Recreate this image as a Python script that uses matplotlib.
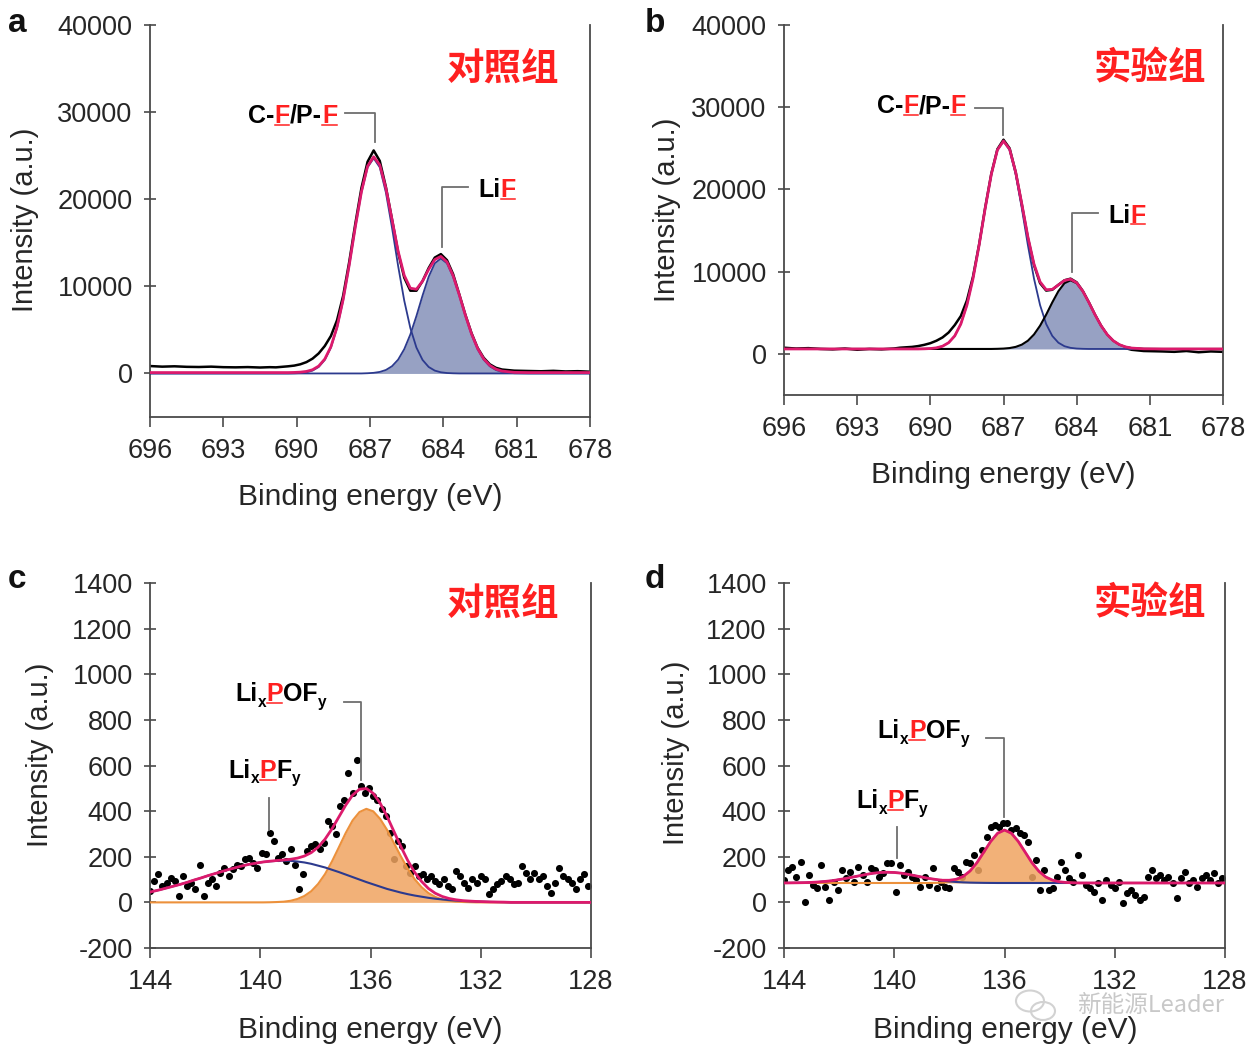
import matplotlib
matplotlib.use('Agg')
import matplotlib.pyplot as plt
from matplotlib.lines import Line2D
from matplotlib.patches import Ellipse

plt.rcParams['font.family'] = ['Liberation Sans', 'Noto Sans CJK SC', 'DejaVu Sans']
plt.rcParams['axes.unicode_minus'] = False

# ---------------- data: panel a (F 1s, control) ----------------
energy_a = [696, 695.5, 695, 694.5, 694, 693.5, 693, 692.5, 692, 691.5,
            691.1, 690.85, 690.6, 690.35, 690.1, 689.85, 689.6, 689.35, 689.1, 688.85,
            688.6, 688.35, 688.1, 687.85, 687.6, 687.35, 687.1, 686.85, 686.6, 686.35,
            686.1, 685.85, 685.6, 685.35, 685.1, 684.85, 684.6, 684.35, 684.1, 683.85,
            683.6, 683.35, 683.1, 682.85, 682.6, 682.35, 682.1, 681.85, 681.6, 681.1,
            680.5, 680, 679.5, 679, 678.5, 678]
counts_a = [850, 780, 820, 760, 740, 780, 720, 700, 730, 680,
            720, 700, 760, 820, 900, 1050, 1300, 1700, 2300, 3150,
            4300, 6100, 8900, 12800, 17200, 21300, 24300, 25600, 24400, 21400,
            17700, 13900, 11000, 9500, 9500, 10600, 12100, 13300, 13700, 13000,
            11400, 9100, 6750, 4650, 2950, 1800, 1050, 650, 450, 320,
            280, 250, 300, 230, 260, 200]
fit_a = [100, 100, 100, 100, 100, 100, 100, 100, 100, 100,
         100, 100, 100, 100, 117, 149, 232, 426, 843, 1651,
         3064, 5312, 8473, 12450, 16847, 20873, 23789, 24870, 23937, 21270,
         17676, 14034, 11258, 9787, 9664, 10601, 11944, 13072, 13432, 12795,
         11218, 9050, 6700, 4575, 2885, 1684, 929, 497, 274, 126,
         100, 100, 100, 100, 100, 100]
cf_a = [0, 0, 0, 0, 0, 0, 0, 0, 0, 0,
        0, 0, 0, 0, 17, 49, 132, 326, 743, 1551,
        2964, 5212, 8373, 12350, 16747, 20773, 23663, 24700, 23663, 20773,
        16747, 12350, 8373, 5212, 2964, 1551, 743, 326, 132, 49,
        17, 0, 0, 0, 0, 0, 0, 0, 0, 0,
        0, 0, 0, 0, 0, 0]
lif_a = [0, 0, 0, 0, 0, 0, 0, 0, 0, 0,
         0, 0, 0, 0, 0, 0, 0, 0, 0, 0,
         0, 0, 0, 0, 0, 0, 26, 70, 174, 397,
         829, 1584, 2785, 4475, 6600, 8950, 11101, 12646, 13200, 12646,
         11101, 8950, 6600, 4475, 2785, 1584, 829, 397, 174, 26,
         0, 0, 0, 0, 0, 0]

# ---------------- data: panel b (F 1s, experiment) ----------------
energy_b = [696, 695.5, 695, 694.5, 694, 693.5, 693, 692.5, 692, 691.5,
            691.25, 691.0, 690.75, 690.5, 690.25, 690.0, 689.75, 689.5, 689.25, 689.0,
            688.75, 688.5, 688.25, 688.0, 687.75, 687.5, 687.25, 687.0, 686.75, 686.5,
            686.25, 686.0, 685.75, 685.5, 685.25, 685.0, 684.75, 684.5, 684.25, 684.0,
            683.75, 683.5, 683.25, 683.0, 682.75, 682.5, 682.25, 682.0, 681.75, 681.25,
            680.5, 680, 679.5, 679, 678.5, 678]
counts_b = [750, 650, 700, 600, 550, 650, 500, 600, 550, 650,
            750, 800, 850, 950, 1100, 1300, 1600, 2000, 2600, 3500,
            4600, 6500, 9400, 13300, 17800, 21900, 24900, 26050, 25000, 22100,
            18200, 14100, 10800, 8600, 7700, 7800, 8400, 8950, 9150, 8700,
            7650, 6250, 4750, 3400, 2300, 1500, 1000, 700, 500, 350,
            300, 250, 350, 200, 300, 250]
fit_b = [600, 600, 600, 600, 600, 600, 600, 600, 600, 600,
         600, 600, 600, 600, 617, 650, 735, 933, 1360, 2186,
         3630, 5928, 9160, 13225, 17720, 21835, 24806, 25895, 24900, 22086,
         18244, 14227, 10922, 8759, 7805, 7847, 8382, 8933, 9085, 8650,
         7639, 6261, 4775, 3431, 2362, 1602, 1124, 851, 710, 616,
         600, 600, 600, 600, 600, 600]
cf_b = [600, 600, 600, 600, 600, 600, 600, 600, 600, 600,
        600, 600, 600, 600, 617, 650, 735, 933, 1360, 2186,
        3630, 5928, 9160, 13225, 17720, 21835, 24790, 25850, 24790, 21835,
        17720, 13225, 9160, 5928, 3630, 2186, 1360, 933, 735, 650,
        617, 600, 600, 600, 600, 600, 600, 600, 600, 600,
        600, 600, 600, 600, 600, 600]
lif_b = [600, 600, 600, 600, 600, 600, 600, 600, 600, 600,
         600, 600, 600, 600, 600, 600, 600, 600, 600, 600,
         600, 600, 600, 600, 600, 600, 616, 645, 710, 851,
         1124, 1602, 2362, 3431, 4775, 6261, 7622, 8600, 8950, 8600,
         7622, 6261, 4775, 3431, 2362, 1602, 1124, 851, 710, 616,
         600, 600, 600, 600, 600, 600]
baseline_b = 600

# ---------------- data: panels c, d (P 2p) ----------------
energy_pts = [144.0, 143.85, 143.7, 143.55, 143.4, 143.25, 143.1, 142.95, 142.8, 142.65,
              142.5, 142.35, 142.2, 142.05, 141.9, 141.75, 141.6, 141.45, 141.3, 141.15,
              141.0, 140.85, 140.7, 140.55, 140.4, 140.25, 140.1, 139.95, 139.8, 139.65,
              139.5, 139.35, 139.2, 139.05, 138.9, 138.75, 138.6, 138.45, 138.3, 138.15,
              138.0, 137.85, 137.7, 137.55, 137.4, 137.25, 137.1, 136.95, 136.8, 136.65,
              136.5, 136.35, 136.2, 136.05, 135.9, 135.75, 135.6, 135.45, 135.3, 135.15,
              135.0, 134.85, 134.7, 134.55, 134.4, 134.25, 134.1, 133.95, 133.8, 133.65,
              133.5, 133.35, 133.2, 133.05, 132.9, 132.75, 132.6, 132.45, 132.3, 132.15,
              132.0, 131.85, 131.7, 131.55, 131.4, 131.25, 131.1, 130.95, 130.8, 130.65,
              130.5, 130.35, 130.2, 130.05, 129.9, 129.75, 129.6, 129.45, 129.3, 129.15,
              129.0, 128.85, 128.7, 128.55, 128.4, 128.25, 128.1]
counts_c = [49, 95, 123, 72, 86, 108, 94, 28, 115, 72,
            86, 57, 166, 28, 86, 101, 72, 130, 152, 115,
            145, 166, 159, 189, 196, 174, 152, 218, 210, 305,
            268, 196, 210, 181, 232, 166, 57, 123, 225, 247,
            254, 232, 262, 356, 334, 298, 421, 450, 567, 480,
            626, 509, 480, 502, 465, 450, 410, 378, 305, 188,
            268, 246, 160, 130, 159, 116, 123, 101, 115, 94,
            79, 101, 72, 57, 137, 115, 86, 64, 101, 86,
            115, 101, 35, 57, 79, 94, 115, 101, 79, 86,
            159, 130, 101, 130, 101, 115, 72, 42, 86, 152,
            115, 101, 86, 57, 101, 123, 72]
counts_d = [98, 142, 157, 113, 179, 3, 120, 76, 62, 164,
            69, 11, 91, 54, 142, 106, 135, 91, 157, 120,
            91, 149, 142, 113, 128, 171, 171, 47, 164, 120,
            135, 113, 98, 69, 113, 76, 149, 62, 91, 69,
            62, 149, 135, 113, 179, 171, 208, 142, 230, 288,
            332, 339, 332, 347, 347, 317, 325, 303, 295, 266,
            113, 186, 54, 142, 54, 62, 113, 179, 142, 106,
            91, 208, 120, 76, 62, 47, 84, 11, 98, 76,
            62, 91, -4, 40, 54, 32, 11, 25, 113, 142,
            106, 120, 98, 113, 84, 18, 106, 135, 84, 98,
            69, 106, 120, 98, 128, 84, 106]

energy_c_fit = [144.0, 143.9, 143.65, 143.4, 143.15, 142.9, 142.65, 142.4, 142.15, 141.9,
                141.65, 141.4, 141.15, 140.9, 140.65, 140.4, 140.15, 139.9, 139.65, 139.4,
                139.15, 138.9, 138.65, 138.4, 138.15, 137.9, 137.65, 137.4, 137.15, 136.9,
                136.65, 136.4, 136.15, 135.9, 135.65, 135.4, 135.15, 134.9, 134.65, 134.4,
                134.15, 133.9, 133.65, 133.4, 133.15, 132.9, 132.65, 132.4, 132.15, 131.9,
                131.65, 131.4, 131.15, 130.9, 130.65, 130.4, 130.15, 129.9, 129.65, 129.4,
                129.15, 128.9, 128.65, 128.4, 128.15, 128.0]
pfy_c = [45, 48, 55, 63, 71, 79, 88, 98, 107, 117,
         126, 135, 144, 152, 160, 167, 172, 177, 180, 182,
         183, 182, 179, 175, 169, 161, 153, 143, 133, 122,
         111, 100, 89, 79, 69, 59, 51, 43, 36, 30,
         25, 20, 16, 13, 10, 8, 6, 5, 4, 3,
         2, 1.5, 1, 0, 0, 0, 0, 0, 0, 0,
         0, 0, 0, 0, 0, 0]
pofy_c = [0, 0, 0, 0, 0, 0, 0, 0, 0, 0,
          0, 0, 0, 0, 0, 0, 0, 0, 0.5, 1.5,
          3, 7, 15, 28, 49, 81, 124, 179, 241, 304,
          359, 396, 410, 399, 366, 318, 260, 202, 148, 102,
          67, 41, 24, 13, 7, 3.4, 1.6, 0.7, 0, 0,
          0, 0, 0, 0, 0, 0, 0, 0, 0, 0,
          0, 0, 0, 0, 0, 0]
fit_c = [45, 48, 55, 63, 71, 79, 88, 98, 107, 117,
         126, 135, 144, 152, 160, 167, 172, 177, 180.5, 183.5,
         186, 189, 194, 203, 218, 242, 277, 322, 374, 426,
         470, 496, 499, 478, 435, 377, 311, 245, 184, 132,
         92, 61, 40, 26, 17, 11.4, 7.6, 5.7, 4, 3,
         2, 1.5, 1, 0, 0, 0, 0, 0, 0, 0,
         0, 0, 0, 0, 0, 0]

energy_d_fit = [144.0, 143.75, 143.5, 143.25, 143.0, 142.75, 142.5, 142.25, 142.0, 141.75,
                141.5, 141.25, 141.0, 140.75, 140.5, 140.25, 140.0, 139.75, 139.5, 139.25,
                139.0, 138.75, 138.5, 138.25, 138.0, 137.75, 137.5, 137.25, 137.0, 136.75,
                136.5, 136.25, 136.0, 135.75, 135.5, 135.25, 135.0, 134.75, 134.5, 134.25,
                134.0, 133.75, 133.5, 133.25, 133.0, 132.75, 132.5, 132.25, 132.0, 131.75,
                131.5, 131.25, 131.0, 130.75, 130.5, 130.25, 130.0, 129.75, 129.5, 129.25,
                129.0, 128.75, 128.5, 128.25, 128.0]
pfy_d = [85, 85.5, 86, 86.6, 87.7, 89.4, 92, 95, 100, 105,
         111, 117, 123, 128, 131, 132, 131, 128, 123, 117,
         111, 105, 100, 95, 92, 89.4, 87.7, 86.6, 86, 85.5,
         85.2, 85, 85, 85, 85, 85, 85, 85, 85, 85,
         85, 85, 85, 85, 85, 85, 85, 85, 85, 85,
         85, 85, 85, 85, 85, 85, 85, 85, 85, 85,
         85, 85, 85, 85, 85]
pofy_d = [85, 85, 85, 85, 85, 85, 85, 85, 85, 85,
          85, 85, 85, 85, 85, 85, 85, 85, 85, 85,
          85, 85, 85.6, 87, 90, 97, 111, 136, 173, 220,
          267, 303, 317, 303, 267, 220, 173, 136, 111, 97,
          90, 87, 85.6, 85, 85, 85, 85, 85, 85, 85,
          85, 85, 85, 85, 85, 85, 85, 85, 85, 85,
          85, 85, 85, 85, 85]
fit_d = [85, 85.5, 86, 86.6, 87.7, 89.4, 92, 95, 100, 105,
         111, 117, 123, 128, 131, 132, 131, 128, 123, 117,
         111, 105, 100.6, 97, 97, 101.4, 113.7, 137.6, 174, 220.5,
         267.2, 303, 317, 303, 267, 220, 173, 136, 111, 97,
         90, 87, 85.6, 85, 85, 85, 85, 85, 85, 85,
         85, 85, 85, 85, 85, 85, 85, 85, 85, 85,
         85, 85, 85, 85, 85]
baseline_d = 85

# ---------------- axes / ticks ----------------
xticks_F = [696, 693, 690, 687, 684, 681, 678]
yticks_F = [0, 10000, 20000, 30000, 40000]
xticks_P = [144, 140, 136, 132, 128]
yticks_P = [-200, 0, 200, 400, 600, 800, 1000, 1200, 1400]
xlabel = 'Binding energy (eV)'
ylabel = 'Intensity (a.u.)'
group_labels = ['对照组', '实验组', '对照组', '实验组']
panel_letters = ['a', 'b', 'c', 'd']
watermark = '新能源Leader'

# ---------------- styling ----------------
W, H = 1257, 1048
fig = plt.figure(figsize=(W / 100, H / 100), dpi=100)

MAG = '#DC1A6C'
NAVY = '#2C3A8E'
SLATE = '#97A1C3'
ORANGE_F = '#F0A461'
ORANGE_L = '#EC913C'
RED = '#FF2020'
GREY = '#6e6e6e'
SPINE = '#4a4a4a'
TXT = '#262626'


def axes_px(l, t, r, b):
    return fig.add_axes([l / W, 1 - b / H, (r - l) / W, (b - t) / H])


def style(ax, xlim, xt, ylim, yt):
    ax.set_xlim(*xlim)
    ax.set_ylim(*ylim)
    ax.set_xticks(xt)
    ax.set_xticklabels([str(v) for v in xt])
    ax.set_yticks(yt)
    ax.set_yticklabels([str(v) for v in yt])
    ax.spines['top'].set_visible(False)
    for s in ['left', 'bottom', 'right']:
        ax.spines[s].set_color(SPINE)
        ax.spines[s].set_linewidth(1.3)
    ax.tick_params(axis='y', direction='inout', length=9, width=1.2, pad=8,
                   labelsize=19.5, color=SPINE, labelcolor=TXT, right=False)
    ax.tick_params(axis='x', direction='out', length=7, width=1.2, pad=8,
                   labelsize=19.5, color=SPINE, labelcolor=TXT, top=False)


axa = axes_px(150, 25, 590, 417)
axb = axes_px(784, 25, 1223, 395)
axc = axes_px(150, 583, 591, 948)
axd = axes_px(784, 583, 1225, 948)

style(axa, (696, 678), xticks_F, (-5000, 40000), yticks_F)
style(axb, (696, 678), xticks_F, (-5000, 40000), yticks_F)
style(axc, (144, 128), xticks_P, (-200, 1400), yticks_P)
style(axd, (144, 128), xticks_P, (-200, 1400), yticks_P)

# panel a
axa.plot(energy_a, counts_a, color='black', lw=1.8, zorder=2)
axa.fill_between(energy_a, 0, lif_a, color=SLATE, lw=0, zorder=3)
axa.plot(energy_a, lif_a, color=NAVY, lw=1.3, zorder=4)
axa.plot(energy_a, cf_a, color=NAVY, lw=1.3, zorder=4)
axa.plot(energy_a, fit_a, color=MAG, lw=2.0, zorder=5)

# panel b
axb.plot(energy_b, counts_b, color='black', lw=1.8, zorder=2)
axb.fill_between(energy_b, baseline_b, lif_b, color=SLATE, lw=0, zorder=3)
axb.plot(energy_b, cf_b, color=NAVY, lw=1.3, zorder=4)
axb.plot(energy_b, lif_b, color='black', lw=1.5, zorder=4)
axb.plot(energy_b, fit_b, color=MAG, lw=2.0, zorder=5)

# panel c
axc.scatter(energy_pts, counts_c, s=26, color='black', zorder=2, lw=0)
axc.fill_between(energy_c_fit, 0, pofy_c, color=ORANGE_F, alpha=0.85, lw=0, zorder=3)
axc.plot(energy_c_fit, pofy_c, color=ORANGE_L, lw=1.5, zorder=3.5)
axc.plot(energy_c_fit, pfy_c, color=NAVY, lw=1.5, zorder=4)
axc.plot(energy_c_fit, fit_c, color=MAG, lw=2.0, zorder=5)

# panel d
axd.scatter(energy_pts, counts_d, s=26, color='black', zorder=2, lw=0)
axd.fill_between(energy_d_fit, baseline_d, pofy_d, color=ORANGE_F, alpha=0.85, lw=0, zorder=3)
axd.plot(energy_d_fit, pofy_d, color=ORANGE_L, lw=1.5, zorder=3.5)
axd.plot(energy_d_fit, pfy_d, color=NAVY, lw=1.5, zorder=4)
axd.plot(energy_d_fit, fit_d, color=MAG, lw=2.0, zorder=5)

# ---------------- rich labels ----------------
underlined = []


def rich(ax, x, y, parts, size=18):
    prev = None
    prev_main = None
    for s, color, kind in parts:
        fs = size * 0.62 if kind == 'sub' else size
        kw = dict(color=color, fontsize=fs, fontweight='bold', family='Liberation Sans')
        if prev is None:
            t = ax.text(x, y, s, ha='left', va='baseline', zorder=7, **kw)
        elif kind == 'sub':
            t = ax.annotate(s, xy=(1, 0), xycoords=prev, xytext=(0.3, -2.5),
                            textcoords='offset points', ha='left', va='bottom', zorder=7, **kw)
        else:
            t = ax.annotate(s, xy=(1, 0), xycoords=(prev, prev_main),
                            ha='left', va='bottom', zorder=7, **kw)
        if kind != 'sub':
            prev_main = t
        if kind == 'ul':
            underlined.append(t)
        prev = t


def leader(ax, xs, ys):
    ax.plot(xs, ys, color=GREY, lw=1.3, zorder=6, clip_on=False)


K = 'black'
cfpf = [('C-', K, 'n'), ('F', RED, 'ul'), ('/P-', K, 'n'), ('F', RED, 'ul')]
lif = [('Li', K, 'n'), ('F', RED, 'ul')]
pof = [('Li', K, 'n'), ('x', K, 'sub'), ('P', RED, 'ul'), ('OF', K, 'n'), ('y', K, 'sub')]
pf = [('Li', K, 'n'), ('x', K, 'sub'), ('P', RED, 'ul'), ('F', K, 'n'), ('y', K, 'sub')]

rich(axa, 691.98, 28770, cfpf)
leader(axa, [688.02, 686.79, 686.79], [29890, 29890, 26610])
rich(axa, 682.57, 20270, lif)
leader(axa, [682.98, 684.06, 684.06], [21350, 21350, 14500])

rich(axb, 692.2, 29290, cfpf)
leader(axb, [688.17, 687.01, 687.01], [29900, 29900, 26660])
rich(axb, 682.70, 15960, lif)
leader(axb, [683.11, 684.2, 684.2], [17170, 17170, 9900])

rich(axc, 140.91, 881, pof)
leader(axc, [136.97, 136.36, 136.36], [877, 877, 538])
rich(axc, 141.15, 546, pf)
leader(axc, [139.7, 139.7], [458, 319])

rich(axd, 140.6, 719, pof)
leader(axd, [136.68, 136.02, 136.02], [719, 719, 376])
rich(axd, 141.39, 413, pf)
leader(axd, [139.91, 139.91], [332, 193])

# ---------------- figure texts ----------------
def ftext(x, y, s, **kw):
    return fig.text(x / W, 1 - y / H, s, **kw)


for (x, y), s in zip([(17, 23), (655, 23), (17, 579), (655, 579)], panel_letters):
    ftext(x, y, s, fontsize=24, fontweight='bold', ha='center', va='center', color='#111111')

for (x, y), s in zip([(503, 68), (1150, 68), (503, 603), (1150, 603)], group_labels):
    ftext(x, y, s, fontsize=27, fontweight='bold', ha='center', va='center', color=RED,
          family='Noto Sans CJK SC')

for (x, y) in [(25, 220), (667, 210), (40, 755), (676, 753)]:
    ftext(x, y, ylabel, fontsize=21, rotation=90, ha='center', va='center', color=TXT)

for (x, y) in [(370, 497), (1003, 475), (370, 1030), (1005, 1030)]:
    ftext(x, y, xlabel, fontsize=21.5, ha='center', va='center', color=TXT)

# faint source watermark (bottom right), kept clear of the tick labels
ftext(1150, 1006, watermark, fontsize=17, ha='center', va='center', color='#c8c8c8',
      family='Noto Sans CJK SC', zorder=10)
fig.add_artist(Ellipse((1030 / W, 1 - 1001 / H), 28 / W, 21 / H, transform=fig.transFigure,
                       fill=False, ec='#d2d2d2', lw=1.5))
fig.add_artist(Ellipse((1043 / W, 1 - 1011 / H), 24 / W, 18 / H, transform=fig.transFigure,
                       fill=False, ec='#d2d2d2', lw=1.5))

# ---------------- underlines under red letters ----------------
fig.canvas.draw()
renderer = fig.canvas.get_renderer()
inv = fig.transFigure.inverted()
for t in underlined:
    bb = t.get_window_extent(renderer)
    fs_px = t.get_fontsize() * fig.dpi / 72.0
    yb = bb.y0 + 0.212 * fs_px - 2.0
    p0 = inv.transform((bb.x0 + 0.5, yb))
    p1 = inv.transform((bb.x1 - 0.5, yb))
    fig.add_artist(Line2D([p0[0], p1[0]], [p0[1], p1[1]], transform=fig.transFigure,
                          color=RED, lw=1.1))

fig.savefig('out.png', dpi=100)
